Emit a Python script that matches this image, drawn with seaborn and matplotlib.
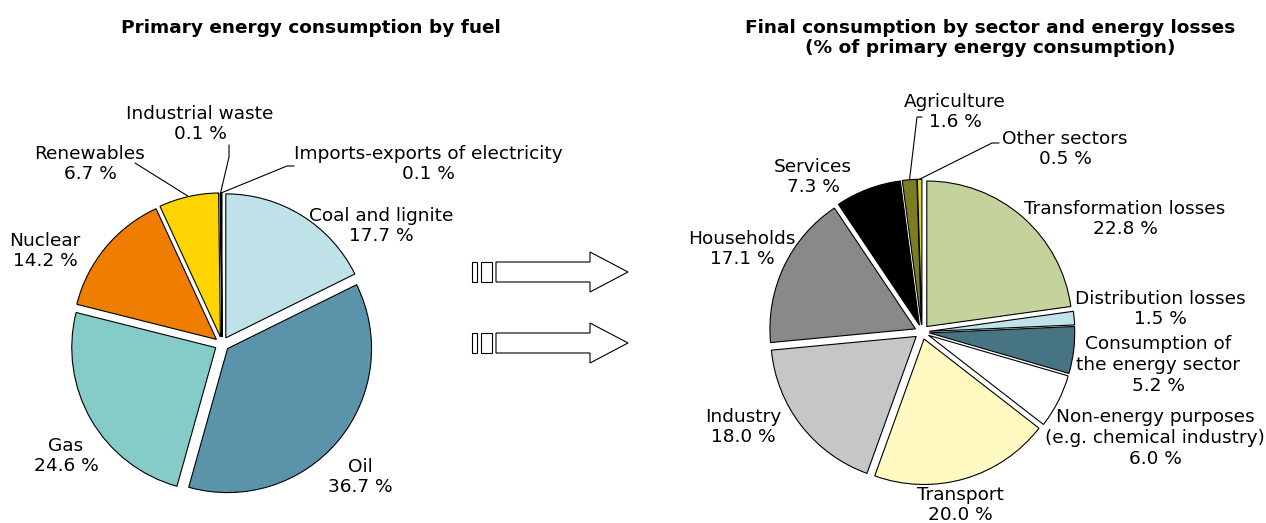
import numpy as np
import matplotlib
matplotlib.use("Agg")
import matplotlib.pyplot as plt
import seaborn as sns
from matplotlib.patches import Polygon, Rectangle

sns.set_theme(style="white")
plt.rcParams['font.family'] = ['DejaVu Sans']

# Dados: consumo de energia primária por combustível
fuel_labels = ["Coal and lignite", "Oil", "Gas", "Nuclear", "Renewables",
               "Industrial waste", "Imports-exports of electricity"]
fuel_values = [17.7, 36.7, 24.6, 14.2, 6.7, 0.1, 0.1]
fuel_colors = ["#bfe2e8", "#5a93aa", "#85cbc7", "#ee7d00", "#ffd400", "#404040", "#ffffff"]

# Dados: consumo final por sector e perdas
sector_labels = ["Transformation losses", "Distribution losses",
                 "Consumption of\nthe energy sector",
                 "Non-energy purposes\n(e.g. chemical industry)",
                 "Transport", "Industry", "Households", "Services",
                 "Agriculture", "Other sectors"]
sector_values = [22.8, 1.5, 5.2, 6.0, 20.0, 18.0, 17.1, 7.3, 1.6, 0.5]
sector_colors = ["#c4d29c", "#bee3ea", "#477483", "#ffffff", "#fff9c2",
                 "#c5c6c8", "#898989", "#000000", "#7b7d24", "#d6d62a"]

W, H = 1266, 523
FS = 13.3
LS = 1.2

fig = plt.figure(figsize=(W / 100, H / 100), dpi=100)
ax = fig.add_axes([0, 0, 1, 1])


def Y(y):
    # converte coordenada de pixel (topo) para dados (base)
    return H - y


def draw_pie(values, colors, cx, cy, r, expl):
    ax.pie(values, colors=colors, startangle=90, counterclock=False,
           explode=[expl * r] * len(values), center=(cx, Y(cy)), radius=r,
           wedgeprops=dict(edgecolor="black", linewidth=0.8))


def anchor(values, i, cx, cy, r, expl):
    # ponto exterior do sector i (no ângulo médio)
    cum = np.cumsum([0] + list(values))
    mid = (cum[i] + values[i] / 2) / sum(values) * 2 * np.pi
    d = r * (1 + expl)
    return cx + d * np.sin(mid), Y(cy) + d * np.cos(mid)


def label(x, y, txt):
    ax.text(x, Y(y), txt, ha="center", va="center", fontsize=FS,
            linespacing=LS, color="black")


def leader(p0, pts):
    xs = [p0[0]] + [p[0] for p in pts]
    ys = [p0[1]] + [Y(p[1]) for p in pts]
    ax.plot(xs, ys, color="black", lw=0.8)


# === Gráfico 1 ===
c1 = (222, 344, 144, 0.05)
draw_pie(fuel_values, fuel_colors, *c1)
fuel_pos = [(381, 226), (360, 477), (66, 456), (45, 251), (90, 164), (200, 124), (428, 164)]
for i, (lx, ly) in enumerate(fuel_pos):
    label(lx, ly, f"{fuel_labels[i]}\n{fuel_values[i]:.1f} %")
leader(anchor(fuel_values, 4, *c1), [(135, 163)])
leader(anchor(fuel_values, 5, *c1), [(229, 157), (229, 145)])
leader(anchor(fuel_values, 6, *c1), [(287, 166), (294, 166)])

# === Gráfico 2 ===
c2 = (922, 332, 145.5, 0.05)
draw_pie(sector_values, sector_colors, *c2)
sector_pos = [(1125, 219), (1160, 309), (1158, 365), (1155, 438), (960, 505),
              (743, 427), (742, 249), (813, 177), (955, 112), (1065, 149)]
for i, (lx, ly) in enumerate(sector_pos):
    label(lx, ly, f"{sector_labels[i]}\n{sector_values[i]:.1f} %")
leader(anchor(sector_values, 8, *c2), [(917, 117), (922, 117)])
leader(anchor(sector_values, 9, *c2), [(992, 143), (999, 143)])

# Setas entre os gráficos
for yc in (272, 343):
    for x0, x1 in ((472, 477), (481, 492)):
        ax.add_patch(Rectangle((x0, Y(yc + 10)), x1 - x0, 20, fc="white", ec="black", lw=0.8))
    pts = [(496, yc - 10), (590, yc - 10), (590, yc - 20), (628, yc), (590, yc + 20),
           (590, yc + 10), (496, yc + 10)]
    ax.add_patch(Polygon([(x, Y(y)) for x, y in pts], closed=True, fc="white", ec="black", lw=0.8))

# Títulos
ax.text(311, Y(28), "Primary energy consumption by fuel", ha="center", va="center",
        fontsize=FS, fontweight="bold", color="black")
ax.text(990, Y(38), "Final consumption by sector and energy losses\n(% of primary energy consumption)",
        ha="center", va="center", fontsize=FS, fontweight="bold", linespacing=1.12,
        color="black")

ax.set_xlim(0, W)
ax.set_ylim(0, H)
ax.set_aspect("auto")
ax.axis("off")

fig.savefig("out.png", dpi=100, facecolor="white")
